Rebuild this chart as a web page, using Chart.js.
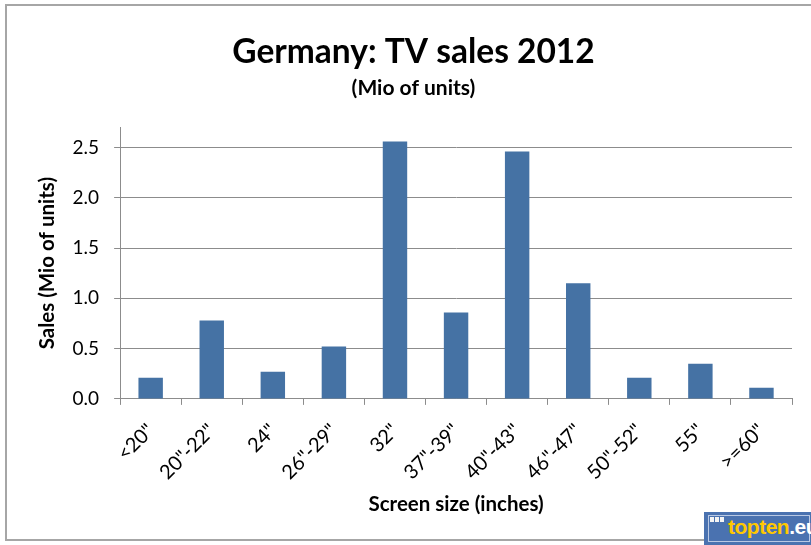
<!DOCTYPE html>
<html>
<head>
<meta charset="utf-8">
<script src="https://cdn.jsdelivr.net/npm/chart.js@4/dist/chart.umd.min.js"></script>
<style>
  html, body { margin: 0; padding: 0; background: #fff; }
  #wrap { position: relative; width: 811px; height: 545px; overflow: hidden; }
  #frame { position: absolute; left: 5px; top: 4px; width: 840px; height: 537px; border: 2px solid #a6a6a6; box-sizing: border-box; }
  #chart { position: absolute; left: 0; top: 0; }
  #logo { position: absolute; left: 704px; top: 512px; width: 120px; height: 40px; background: #4a72b0; font-family: "Liberation Sans", Arial, sans-serif; font-weight: bold; font-size: 21px; }
  #logo .box { position: absolute; left: 4px; top: 3px; width: 100px; height: 25px; border: 1px solid #b8c8e4; }
  #logo .dots { position: absolute; left: 6px; top: 5px; width: 14px; height: 5px; background: repeating-linear-gradient(90deg, #f3f3f3 0 4px, transparent 4px 5px); }
  #logo .txt { position: absolute; left: 24px; top: 3px; color: #ffc800; letter-spacing: -0.5px; }
  #logo .txt span { color: #fff; }
</style>
</head>
<body>
<div id="wrap">
  <div id="frame"></div>
  <canvas id="chart" width="811" height="545"></canvas>
  <div id="logo"><div class="box"></div><div class="dots"></div><div class="txt">topten<span>.eu</span></div></div>
</div>
<script>
const sizes = ['<20"', '20"-22"', '24"', '26"-29"', '32"', '37"-39"', '40"-43"', '46"-47"', '50"-52"', '55"', '>=60"'];
const sales = [0.21, 0.78, 0.27, 0.52, 2.56, 0.86, 2.46, 1.15, 0.21, 0.35, 0.11];
const yTicks = [0.0, 0.5, 1.0, 1.5, 2.0, 2.5];

const font = "Lato, 'Open Sans', sans-serif";
const gridColor = "#8c8c8c";

var ctx = document.getElementById("chart").getContext("2d");

var chart = new Chart(ctx, {
  type: "bar",
  data: {
    labels: sizes,
    datasets: [
      {
        label: "Sales",
        data: sales,
        backgroundColor: "#4572a4",
        borderWidth: 0,
        categoryPercentage: 1.0,
        barPercentage: 0.4,
      },
    ],
  },
  options: {
    responsive: false,
    animation: false,
    layout: { padding: { left: 35, right: 19, top: 18, bottom: 28 } },
    plugins: {
      legend: { display: false },
      tooltip: { enabled: false },
      title: {
        display: true,
        text: "Germany: TV sales 2012",
        color: "#000",
        font: { family: font, size: 33.5, weight: "bold" },
        padding: { top: 14, bottom: 3 },
      },
      subtitle: {
        display: true,
        text: "(Mio of units)",
        color: "#000",
        font: { family: font, size: 21, weight: "bold" },
        padding: { top: 0, bottom: 27 },
      },
    },
    scales: {
      x: {
        grid: { drawOnChartArea: false, drawTicks: true, tickLength: 6, color: gridColor },
        border: { color: gridColor, width: 1 },
        ticks: {
          color: "#000",
          font: { family: font, size: 20 },
          minRotation: 45,
          maxRotation: 45,
          padding: 14,
        },
        title: {
          display: true,
          text: "Screen size (inches)",
          color: "#000",
          font: { family: font, size: 20.5, weight: "bold" },
          padding: { top: -6, bottom: 0 },
        },
      },
      y: {
        min: 0,
        max: 2.7,
        afterBuildTicks: function (axis) {
          axis.ticks = yTicks.map(function (v) { return { value: v }; });
        },
        grid: { color: gridColor, tickLength: 6 },
        border: { color: gridColor, width: 1 },
        ticks: {
          color: "#000",
          font: { family: font, size: 19 },
          padding: 15,
          callback: function (v) { return v.toFixed(1); },
        },
        title: {
          display: true,
          text: "Sales (Mio of units)",
          color: "#000",
          font: { family: font, size: 20.5, weight: "bold" },
          padding: { top: 0, bottom: -2 },
        },
      },
    },
  },
});
</script>
</body>
</html>
